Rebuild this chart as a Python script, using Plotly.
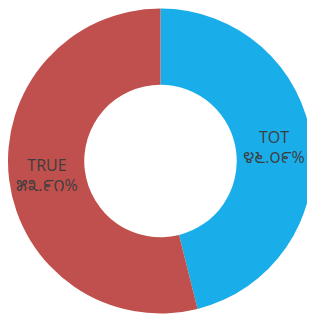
import plotly.graph_objects as go

categories = ["TOT", "TRUE"]
values = [46.09, 53.91]
value_labels = ["೪೬.೦೯%", "೫೩.೯೧%"]
colors = ["#19ADE9", "#C0504D"]

texts = [f"{c}<br>{v}" for c, v in zip(categories, value_labels)]

fig = go.Figure(go.Pie(
    labels=categories,
    values=values,
    text=texts,
    textinfo="text",
    hole=0.5,
    sort=False,
    direction="clockwise",
    rotation=0,
    marker=dict(colors=colors, line=dict(width=0)),
    textposition="inside",
    insidetextorientation="horizontal",
    textfont=dict(family="Open Sans, Noto Sans Kannada, sans-serif", size=16, color="#3d3d3d"),
    showlegend=False,
))

fig.update_layout(
    width=305, height=306,
    margin=dict(l=0, r=0, t=0, b=0),
    paper_bgcolor="white",
    plot_bgcolor="white",
)

fig.write_html("out.html")
